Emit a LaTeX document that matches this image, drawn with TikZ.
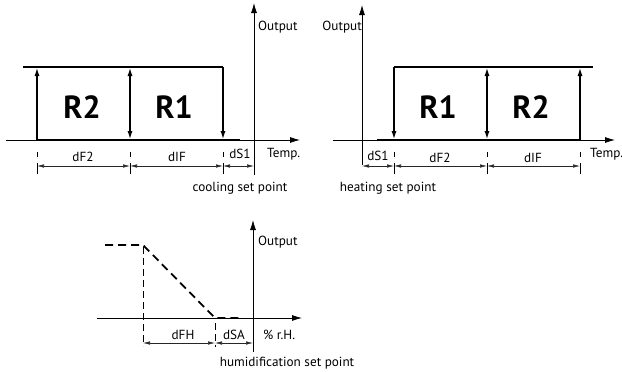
\documentclass[tikz,border=0pt]{standalone}
\usepackage{fontspec}
\setmainfont{PT Sans}
\usetikzlibrary{arrows.meta,calc}

\tikzset{
  axis/.style={line width=0.8pt, -{Latex[length=10pt,width=6pt]}},
  relay/.style={line width=1.8pt, >={Latex[length=9pt,width=5pt]}},
  dim/.style={line width=0.6pt, black!85, {Latex[length=7pt,width=3.5pt]}-{Latex[length=7pt,width=3.5pt]}},
  tickline/.style={line width=0.6pt, dash pattern=on 5pt off 6pt on 11pt off 4pt},
  lbl/.style={font=\fontsize{13.2}{14}\selectfont, inner sep=0pt},
  stage/.style={font=\fontsize{32}{34}\selectfont\bfseries, inner sep=0pt}
}

\begin{document}
\begin{tikzpicture}[x=1pt, y=-1pt]
\useasboundingbox (0,0) rectangle (622,372);

% cooling
\draw[axis] (6,140) -- (300,140);
\draw[axis] (254,175) -- (254,3);
\node(outC)[lbl, anchor=west] at (258,27) {Output};
\node(tmpC)[lbl, anchor=west] at (267,154) {Temp.};
\draw[relay] (23,67) -- (223,67);
\draw[relay] (37,140) -- (240,140);
\draw[relay,->] (37,140) -- (37,67);
\draw[relay,<->] (130,140) -- (130,67);
\draw[relay,->] (223,67) -- (223,140);
\node(R2c)[stage] at (82,107) {R2};
\node(R1c)[stage] at (174,107) {R1};
\foreach \x in {37,130,223}
  \draw[tickline] (\x,152) -- (\x,174);
\draw[dim] (37,166) -- (130,166);
\draw[dim] (130,166) -- (223,166);
\draw[dim] (223,166) -- (254,166);
\node(dF2c)[lbl] at (83,157) {dF2};
\node(dIFc)[lbl] at (177,157) {dIF};
\node(dS1c)[lbl] at (240,154) {dS1};
\node(spC)[lbl] at (240,188) {cooling set point};

% heating
\draw[axis] (333,140) -- (615,140);
\draw[axis] (362,165) -- (362,5);
\node(outH)[lbl, anchor=east] at (362,27) {Output};
\node(tmpH)[lbl, anchor=west] at (590,154) {Temp.};
\draw[relay] (394,67) -- (593,67);
\draw[relay] (377,140) -- (580,140);
\draw[relay,->] (394,67) -- (394,140);
\draw[relay,<->] (487,140) -- (487,67);
\draw[relay,->] (580,140) -- (580,67);
\node(R1h)[stage] at (438,107) {R1};
\node(R2h)[stage] at (531,107) {R2};
\foreach \x in {394,487,580}
  \draw[tickline] (\x,152) -- (\x,174);
\draw[dim] (362,166) -- (394,166);
\draw[dim] (394,166) -- (487,166);
\draw[dim] (487,166) -- (580,166);
\node(dS1h)[lbl] at (378,156) {dS1};
\node(dF2h)[lbl] at (440,158) {dF2};
\node(dIFh)[lbl] at (533,158) {dIF};
\node(spH)[lbl] at (388,188) {heating set point};

% humidification
\draw[axis] (97,318) -- (302,318);
\draw[axis] (253,352) -- (253,220);
\node(outU)[lbl, anchor=west] at (258,242) {Output};
\node(rhU)[lbl, anchor=west] at (263,335) {\% r.H.};
\draw[line width=1.8pt, dash pattern=on 8pt off 5pt] (105,245) -- (143,245) -- (215,318) -- (243,318);
\draw[line width=0.6pt, dash pattern=on 7pt off 4pt] (143,247) -- (143,346);
\draw[line width=0.6pt, dash pattern=on 7pt off 4pt] (215,323) -- (215,347);
\draw[dim] (143,343) -- (215,343);
\draw[dim] (215,343) -- (253,343);
\node(dFH)[lbl] at (183,335) {dFH};
\node(dSA)[lbl] at (234,335) {dSA};
\node(spU)[lbl] at (287,363) {humidification set point};
\end{tikzpicture}
\end{document}
